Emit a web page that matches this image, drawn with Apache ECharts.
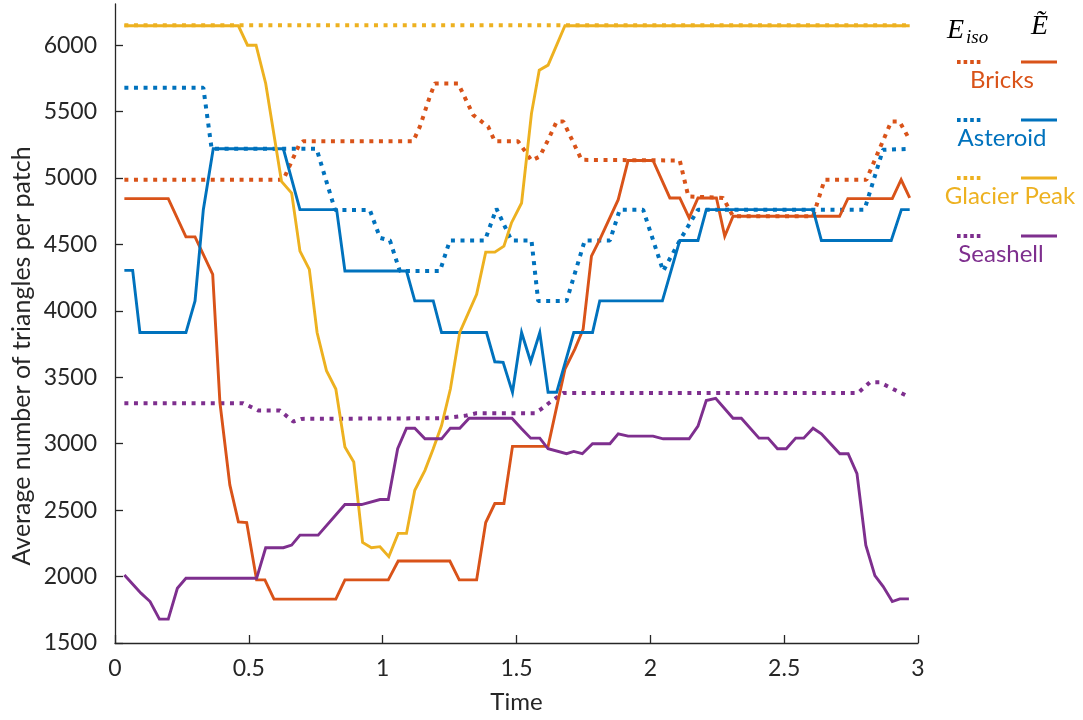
<!DOCTYPE html>
<html>
<head>
<meta charset="utf-8">
<script src="https://cdn.jsdelivr.net/npm/echarts@6/dist/echarts.min.js"></script>
<style>
html,body{margin:0;padding:0;background:#fff;}
#chart{width:1083px;height:720px;}
</style>
</head>
<body>
<div id="chart"></div>
<script>
// ---- data: [time, average number of triangles per patch] ----
const bricksIso = [[0.035,4987],[0.629,4987],[0.688,5250],[0.703,5276],[1.114,5276],[1.139,5387],[1.176,5612],[1.195,5712],[1.282,5712],[1.338,5475],[1.394,5387],[1.419,5276],[1.506,5276],[1.556,5132],[1.587,5162],[1.618,5287],[1.650,5425],[1.675,5425],[1.743,5137],[2.110,5132],[2.142,4862],[2.272,4850],[2.309,4712],[2.608,4712],[2.651,4987],[2.807,4987],[2.900,5425],[2.931,5425],[2.969,5287]];
const bricksE = [[0.035,4845],[0.199,4845],[0.265,4557],[0.299,4557],[0.365,4275],[0.392,3310],[0.429,2690],[0.461,2412],[0.492,2407],[0.529,1975],[0.560,1975],[0.594,1830],[0.825,1830],[0.859,1975],[1.021,1975],[1.058,2117],[1.251,2117],[1.286,1975],[1.351,1975],[1.385,2407],[1.419,2550],[1.453,2550],[1.485,2980],[1.618,2980],[1.681,3562],[1.718,3712],[1.749,3862],[1.780,4412],[1.811,4537],[1.880,4837],[1.917,5132],[2.010,5132],[2.073,4850],[2.110,4850],[2.145,4700],[2.178,4850],[2.247,4850],[2.278,4562],[2.309,4712],[2.707,4712],[2.738,4845],[2.904,4845],[2.937,4987],[2.969,4850]];
const asteroidIso = [[0.035,5680],[0.330,5680],[0.361,5220],[0.753,5220],[0.822,4760],[0.952,4760],[0.990,4550],[1.027,4530],[1.064,4300],[1.214,4300],[1.251,4530],[1.382,4530],[1.425,4770],[1.481,4530],[1.556,4530],[1.581,4075],[1.687,4075],[1.755,4530],[1.849,4530],[1.886,4762],[1.973,4762],[2.048,4300],[2.110,4530],[2.178,4762],[2.800,4762],[2.869,5212],[2.969,5220]];
const asteroidE = [[0.035,4305],[0.066,4305],[0.093,3837],[0.265,3837],[0.299,4075],[0.330,4762],[0.367,5220],[0.629,5220],[0.691,4762],[0.828,4762],[0.859,4300],[1.089,4300],[1.120,4075],[1.189,4075],[1.220,3837],[1.388,3837],[1.419,3617],[1.450,3612],[1.485,3387],[1.519,3837],[1.553,3617],[1.587,3837],[1.618,3387],[1.650,3387],[1.714,3837],[1.784,3837],[1.811,4075],[2.045,4075],[2.110,4530],[2.178,4530],[2.209,4762],[2.608,4762],[2.639,4530],[2.900,4530],[2.938,4762],[2.969,4762]];
const glacierIso = [[0.035,6150],[2.969,6150]];
const glacierE = [[0.035,6146],[0.461,6146],[0.495,6000],[0.527,6000],[0.563,5712],[0.622,4975],[0.660,4887],[0.691,4450],[0.726,4312],[0.755,3837],[0.790,3550],[0.825,3412],[0.859,2975],[0.892,2862],[0.925,2257],[0.958,2217],[0.990,2225],[1.023,2150],[1.058,2325],[1.089,2325],[1.120,2650],[1.158,2800],[1.189,2962],[1.220,3137],[1.253,3412],[1.288,3837],[1.351,4125],[1.385,4442],[1.419,4442],[1.453,4487],[1.481,4662],[1.519,4812],[1.556,5487],[1.585,5812],[1.618,5850],[1.681,6146],[2.969,6146]];
const seashellIso = [[0.035,3305],[0.479,3305],[0.535,3250],[0.616,3250],[0.666,3167],[0.697,3187],[1.226,3192],[1.313,3212],[1.350,3230],[1.569,3230],[1.593,3262],[1.625,3312],[1.675,3382],[2.776,3382],[2.820,3462],[2.857,3462],[2.969,3350]];
const seashellE = [[0.035,2012],[0.097,1875],[0.131,1812],[0.166,1680],[0.199,1680],[0.233,1912],[0.265,1987],[0.529,1987],[0.563,2217],[0.629,2217],[0.660,2237],[0.691,2312],[0.759,2312],[0.859,2542],[0.921,2542],[0.990,2580],[1.021,2580],[1.056,2962],[1.089,3117],[1.120,3117],[1.158,3037],[1.220,3037],[1.253,3117],[1.288,3117],[1.323,3192],[1.483,3192],[1.519,3112],[1.553,3042],[1.587,3042],[1.618,2962],[1.687,2925],[1.714,2942],[1.746,2925],[1.784,3000],[1.849,3000],[1.880,3075],[1.917,3057],[2.010,3057],[2.048,3037],[2.145,3037],[2.178,3132],[2.209,3325],[2.244,3342],[2.309,3192],[2.340,3192],[2.406,3042],[2.440,3042],[2.475,2962],[2.508,2962],[2.543,3042],[2.573,3042],[2.608,3117],[2.639,3075],[2.708,2925],[2.739,2925],[2.772,2775],[2.805,2237],[2.839,2007],[2.870,1925],[2.904,1812],[2.932,1832],[2.966,1832]];

const names = ['Bricks', 'Asteroid', 'Glacier Peak', 'Seashell'];
const yTicks = [1500, 2000, 2500, 3000, 3500, 4000, 4500, 5000, 5500, 6000];
const xAxisName = 'Time';
const yAxisName = 'Average number of triangles per patch';

// ---- styling ----
const colors = ['#D95319', '#0072BD', '#EDB120', '#7E2F8E'];
const isoData = [bricksIso, asteroidIso, glacierIso, seashellIso];
const eData = [bricksE, asteroidE, glacierE, seashellE];
const FONT = 'Lato';
const AX = '#262626';

const series = [];
for (let i = 0; i < 4; i++) {
  series.push({
    name: names[i] + ' iso', type: 'line', data: isoData[i], showSymbol: false, silent: true,
    lineStyle: { color: colors[i], width: 4, type: [4, 5.6], cap: 'butt' }, z: 2
  });
  series.push({
    name: names[i], type: 'line', data: eData[i], showSymbol: false, silent: true,
    lineStyle: { color: colors[i], width: 2.9, join: 'miter' }, z: 3
  });
}

// legend and y title drawn as graphics
const graphics = [];
graphics.push({ type: 'text', x: 22, y: 356, rotation: Math.PI / 2,
  style: { text: yAxisName, font: '25px ' + FONT, fill: AX, textAlign: 'center', textVerticalAlign: 'middle' } });
graphics.push({ type: 'text', left: 947, top: 17, style: { text: 'E', font: 'italic 28px "Liberation Serif"', fill: '#000' } });
graphics.push({ type: 'text', left: 966, top: 28, style: { text: 'iso', font: 'italic 19px "Liberation Serif"', fill: '#000' } });
graphics.push({ type: 'text', left: 1031, top: 13, style: { text: '\u1EBC', font: 'italic 28px "Liberation Serif"', fill: '#000' } });
const rowY = [62, 120, 178, 236];
const textX = [1002, 1002, 1010, 1001];
for (let i = 0; i < 4; i++) {
  graphics.push({ type: 'line', shape: { x1: 957, y1: rowY[i], x2: 983, y2: rowY[i] },
    style: { stroke: colors[i], lineWidth: 3.8, lineDash: [3.6, 3] } });
  graphics.push({ type: 'line', shape: { x1: 1021, y1: rowY[i], x2: 1057, y2: rowY[i] },
    style: { stroke: colors[i], lineWidth: 2.9 } });
  graphics.push({ type: 'text', x: textX[i], y: rowY[i] + 18,
    style: { text: names[i], font: '24px ' + FONT, fill: colors[i], textAlign: 'center', textVerticalAlign: 'middle' } });
}

const chart = echarts.init(document.getElementById('chart'), null, { renderer: 'canvas' });
chart.setOption({
  animation: false,
  backgroundColor: '#fff',
  grid: { left: 115, right: 165, top: 4, bottom: 77, containLabel: false, outerBoundsMode: 'none' },
  xAxis: {
    type: 'value', min: 0, max: 3, interval: 0.5,
    name: xAxisName, nameLocation: 'middle', nameGap: 47,
    nameTextStyle: { fontFamily: FONT, fontSize: 24, color: AX },
    axisLine: { show: true, onZero: false, lineStyle: { color: AX, width: 1.3 } },
    axisTick: { show: true, inside: true, length: 8, lineStyle: { color: AX, width: 1.3 } },
    axisLabel: { fontFamily: FONT, fontSize: 23, color: AX, margin: 14 },
    splitLine: { show: false }
  },
  yAxis: {
    type: 'value', min: 1500, max: 6310,
    axisLine: { show: true, lineStyle: { color: AX, width: 1.3 } },
    axisTick: { show: true, inside: true, length: 8, customValues: yTicks, lineStyle: { color: AX, width: 1.3 } },
    axisLabel: { fontFamily: FONT, fontSize: 23, color: AX, margin: 18, customValues: yTicks,
      formatter: function (v) { return String(v); } },
    splitLine: { show: false }
  },
  series: series,
  graphic: graphics
});
</script>
</body>
</html>
